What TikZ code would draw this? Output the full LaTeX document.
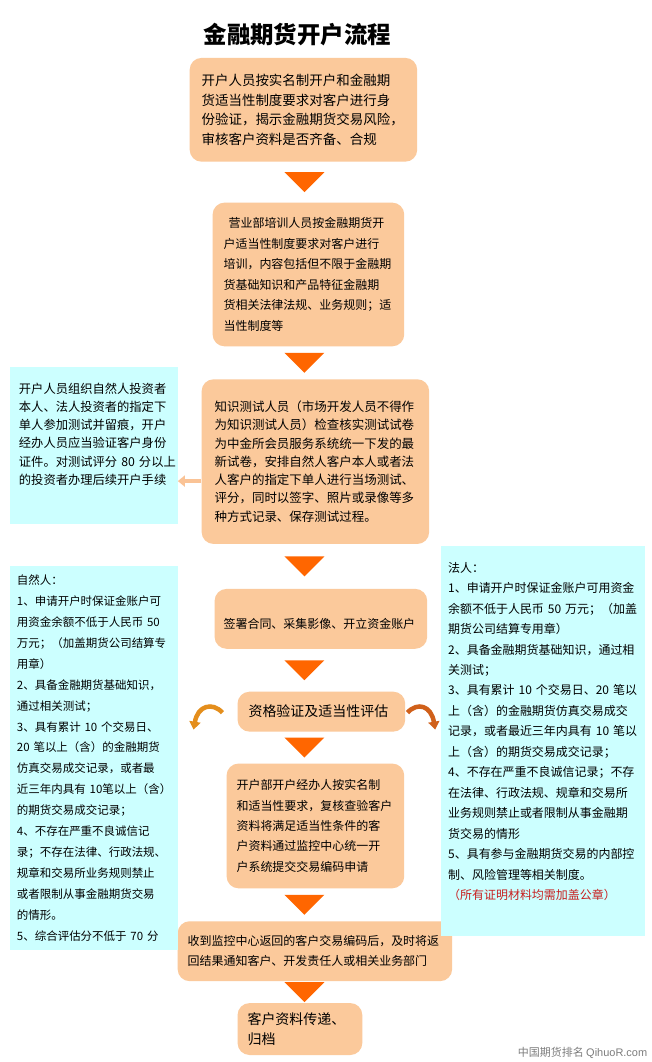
\documentclass[tikz,border=0pt]{standalone}
\usepackage{fontspec}
\setmainfont{Noto Sans CJK SC}
\newfontfamily\latinfont{Liberation Sans}
\usetikzlibrary{calc,arrows.meta}

\definecolor{peach}{RGB}{251,201,155}
\definecolor{paleblue}{RGB}{204,255,255}
\definecolor{triorange}{RGB}{255,102,0}
\definecolor{tailorange}{RGB}{250,195,150}
\definecolor{leftcurl}{RGB}{228,142,28}
\definecolor{rightcurl}{RGB}{208,96,26}
\definecolor{notered}{RGB}{200,30,30}
\definecolor{markgray}{RGB}{125,125,125}

\begin{document}
\begin{tikzpicture}[x=1pt,y=-1pt,
	stepbox/.style={fill=peach,rounded corners=12pt,inner ysep=0pt,align=left},
	sidebox/.style={fill=paleblue,inner ysep=0pt,align=left},
	tri/.style={fill=triorange},
	sidearrow/.style={draw=tailorange,line width=4pt,-{Triangle[width=11pt,length=7pt]}},
	curl/.style={line width=4.5pt,-{Triangle[width=11pt,length=8pt]}}]

	\fill[white] (0,0) rectangle (653,1062);

	\node[font=\fontsize{23.5}{23.5}\selectfont\bfseries] (title) at (298,35) {金融期货开户流程};

	% main steps
	\node[stepbox,text width=204pt,inner xsep=12pt,minimum height=104pt,font=\fontsize{13.5}{19.5}\selectfont] (s1) at (304,110)
		{开户人员按实名制开户和金融期\\货适当性制度要求对客户进行身\\份验证，揭示金融期货交易风险，\\审核客户资料是否齐备、合规};
	\node[stepbox,text width=170pt,inner xsep=11pt,minimum height=144pt,font=\fontsize{12}{20.5}\selectfont] (s2) at (309,275)
		{\hspace{5pt}营业部培训人员按金融期货开\\户适当性制度要求对客户进行\\培训，内容包括但不限于金融期\\货基础知识和产品特征金融期\\货相关法律法规、业务规则；适\\当性制度等};
	\node[stepbox,text width=202pt,inner xsep=13pt,minimum height=165pt,font=\fontsize{12.5}{18.3}\selectfont] (s3) at (316,462.5)
		{知识测试人员（市场开发人员不得作\\为知识测试人员）检查核实测试试卷\\为中金所会员服务系统统一下发的最\\新试卷，安排自然人客户本人或者法\\人客户的指定下单人进行当场测试、\\评分，同时以签字、照片或录像等多\\种方式记录、保存测试过程。};
	\node[stepbox,text width=195pt,inner xsep=9pt,minimum height=60pt,font=\fontsize{12}{20}\selectfont] (s4) at (321.5,620)
		{\mbox{}\\签署合同、采集影像、开立资金账户};
	\node[stepbox,text width=146pt,inner xsep=11pt,minimum height=40pt,font=\fontsize{14}{20}\selectfont] (s5) at (322,713)
		{资格验证及适当性评估};
	\node[stepbox,text width=158pt,inner xsep=10pt,minimum height=125pt,font=\fontsize{12}{20.5}\selectfont] (s6) at (316,827.5)
		{开户部开户经办人按实名制\\和适当性要求，复核查验客户\\资料将满足适当性条件的客\\户资料通过监控中心统一开\\户系统提交交易编码申请};
	\node[stepbox,text width=255pt,inner xsep=10pt,minimum height=60pt,font=\fontsize{12}{20}\selectfont] (s7) at (315.5,953)
		{收到监控中心返回的客户交易编码后，及时将返\\回结果通知客户、开发责任人或相关业务部门};
	\node[stepbox,text width=105pt,inner xsep=10pt,minimum height=52pt,font=\fontsize{14}{20}\selectfont] (s8) at (300.5,1031)
		{客户资料传递、\\归档};

	% side notes
	\node[sidebox,text width=150pt,inner xsep=9pt,minimum height=157pt,font=\fontsize{12.3}{18.3}\selectfont] (c1) at (94,446.5)
		{开户人员组织自然人投资者\\本人、法人投资者的指定下\\单人参加测试并留痕，开户\\经办人员应当验证客户身份\\证件。对测试评分~80~分以上\\的投资者办理后续开户手续\\[6pt]\mbox{}};
	\node[sidebox,text width=154pt,inner xsep=7pt,minimum height=385pt,font=\fontsize{11.5}{21}\selectfont] (c2) at (94,759.5)
		{自然人：\\1、申请开户时保证金账户可\\用资金余额不低于人民币~50\\万元；（加盖期货公司结算专\\用章）\\2、具备金融期货基础知识，\\通过相关测试；\\3、具有累计~10~个交易日、\\20~笔以上（含）的金融期货\\仿真交易成交记录，或者最\\近三年内具有~10笔以上（含）\\的期货交易成交记录；\\4、不存在严重不良诚信记\\录；不存在法律、行政法规、\\规章和交易所业务规则禁止\\或者限制从事金融期货交易\\的情形。\\5、综合评估分不低于~70~分};
	\node[sidebox,text width=190pt,inner xsep=7pt,minimum height=391pt,font=\fontsize{12}{20.5}\selectfont] (c3) at (544,742.5)
		{法人：\\1、申请开户时保证金账户可用资金\\余额不低于人民币~50~万元；（加盖\\期货公司结算专用章）\\2、具备金融期货基础知识，通过相\\关测试；\\3、具有累计~10~个交易日、20~笔以\\上（含）的金融期货仿真交易成交\\记录，或者最近三年内具有~10~笔以\\上（含）的期货交易成交记录；\\4、不存在严重不良诚信记录；不存\\在法律、行政法规、规章和交易所\\业务规则禁止或者限制从事金融期\\货交易的情形\\5、具有参与金融期货交易的内部控\\制、风险管理等相关制度。\\{\color{notered}（所有证明材料均需加盖公章）}\\\mbox{}};

	\node[anchor=east,text=markgray,font=\fontsize{11}{11}\selectfont] (mark) at (652,1055)
		{中国期货排名 {\latinfont QihuoR.com}};

	% down triangles between the steps
	\coordinate (axis) at (305,0);
	\foreach \i / \j in {
	1/2,
	2/3,
	3/4,
	4/5,
	5/6,
	6/7,
	7/8}
	{
		\coordinate (mid) at ($(s\i.south)!0.5!(s\j.north)$);
		\fill[tri] (axis |- mid) ++(-20,-10) -- ++(40,0) -- ++(-20,20) -- cycle;
	};

	\coordinate (tap) at ([yshift=-19.5pt]s3.west);
	\draw[sidearrow] (tap) -- (c1.east |- tap);

	\coordinate (lcurl) at (194,731);
	\coordinate (rcurl) at (436,731);
	\draw[curl,leftcurl] ([xshift=-15pt,yshift=-1pt]s5.west) .. controls +(-10,-11) and +(4,-24) .. (lcurl);
	\draw[curl,rightcurl] ([xshift=2pt,yshift=-1pt]s5.east) .. controls +(10,-11) and +(-4,-24) .. (rcurl);
\end{tikzpicture}
\end{document}
